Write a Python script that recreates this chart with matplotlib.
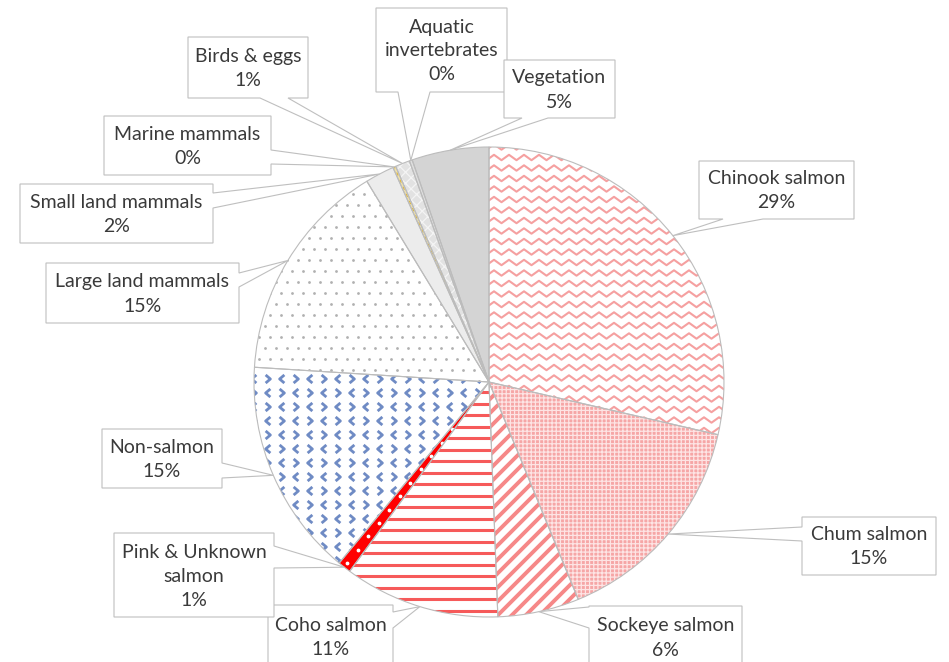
import numpy as np
import matplotlib.pyplot as plt
from matplotlib.patches import Polygon, Wedge
from matplotlib.path import Path

# figure size in pixels, pie drawn in pixel units
W, H = 949, 662
CX, CY, R = 489, 382, 235   # pie centre (from top) and radius

labels = ['Chinook salmon', 'Chum salmon', 'Sockeye salmon', 'Coho salmon',
          'Pink & Unknown\nsalmon', 'Non-salmon', 'Large land mammals',
          'Small land mammals', 'Marine mammals', 'Birds & eggs',
          'Aquatic\ninvertebrates', 'Vegetation']
values = [28.6, 15.2, 5.6, 10.7, 0.9, 15.0, 15.3, 2.0, 0.2, 1.0, 0.2, 5.3]
face = ['white', '#f6a6a6', 'white', 'white', '#ff0000', 'white', 'white',
        '#ececec', '#f1e2a8', '#e2e2e2', '#dedede', '#d4d4d4']

# callout boxes: (x0, y0, x1, y1) in pixels from the top, side of the tail, tail base
boxes = [
    ((699, 161, 854, 219), 'bottom', (723, 763)),
    ((802, 517, 936, 575), 'left', (527, 541)),
    ((589, 606, 742, 668), 'left', (607, 628)),
    ((268, 605, 393, 668), 'right', (612, 628)),
    ((114, 533, 274, 617), 'right', (546, 568)),
    ((102, 429, 222, 488), 'right', (463, 478)),
    ((46, 263, 239, 323), 'right', (273, 287)),
    ((20, 184, 213, 243), 'right', (193, 208)),
    ((104, 116, 271, 175), 'right', (150, 164)),
    ((188, 37, 308, 98), 'bottom', (260, 288)),
    ((376, 8, 507, 92), 'bottom', (398, 430)),
    ((504, 60, 615, 118), 'bottom', (522, 548)),
]

plt.rcParams['font.family'] = ['Lato', 'DejaVu Sans']
plt.rcParams['hatch.linewidth'] = 0.9

fig = plt.figure(figsize=(W / 100, H / 100), dpi=100)
ax = fig.add_axes([0, 0, 1, 1])

wedges, _ = ax.pie(values, startangle=90, counterclock=False,
                   center=(CX, H - CY), radius=R, colors=face,
                   wedgeprops=dict(edgecolor='none', linewidth=0))
ax.set_xlim(0, W)
ax.set_ylim(0, H)
ax.set_aspect('equal')
ax.axis('off')

cy = H - CY

# Chinook: zigzag lines
wz = wedges[0]
xs = np.arange(CX - 10, CX + R + 20, 7.5)
for row in np.arange(cy - 80, cy + R + 20, 10.5):
    ys = row + np.where(np.arange(len(xs)) % 2 == 0, 2.7, -2.7)
    ln, = ax.plot(xs, ys, color='#f5a0a0', lw=1.5, zorder=2)
    ln.set_clip_path(wz)

# Chum: fine grid
w = wedges[1]
hp = Wedge(w.center, w.r, w.theta1, w.theta2, facecolor='none',
           edgecolor='#fde4e4', hatch='++++', lw=0, zorder=2)
ax.add_patch(hp)

# Sockeye: diagonal stripes
w = wedges[2]
xx = np.array([CX - 300, CX + 300])
for c in np.arange(-900, 900, 14):
    ln, = ax.plot(xx, xx - CX + cy + c, color='#f68888', lw=2.8, zorder=2)
    ln.set_clip_path(w)

# Coho: horizontal stripes
w = wedges[3]
for row in np.arange(cy - R - 5, cy + 5, 11.5):
    ln, = ax.plot([CX - R, CX + R], [row, row], color='#f65a5a', lw=2.2, zorder=2)
    ln.set_clip_path(w)

# Pink: white dots along the slice
w = wedges[4]
th = np.deg2rad((w.theta1 + w.theta2) / 2)
rr = np.arange(60, R, 17)
sc = ax.scatter(CX + rr * np.cos(th), cy + rr * np.sin(th), s=3, color='white', zorder=2)
sc.set_clip_path(w)

# Non-salmon: blue chevrons
w = wedges[5]
left = Path([(0.35, 0.6), (-0.35, 0), (0.35, -0.6)], [Path.MOVETO, Path.LINETO, Path.LINETO])
right = Path([(-0.35, 0.6), (0.35, 0), (-0.35, -0.6)], [Path.MOVETO, Path.LINETO, Path.LINETO])
gx, gy = np.meshgrid(np.arange(CX - R, CX + 10, 14), np.arange(cy - R, cy + 10, 14))
odd = (np.round((gx - CX) / 14) + np.round((gy - cy) / 14)) % 2 == 1
for m, mask in ((left, odd), (right, ~odd)):
    sc = ax.scatter(gx[mask], gy[mask], marker=m, s=34, facecolors='none',
                    edgecolors='#6f8bc4', linewidths=2.0, zorder=2)
    sc.set_clip_path(w)

# Large land mammals: grey dots
w = wedges[6]
gx, gy = np.meshgrid(np.arange(CX - R, CX + 10, 11), np.arange(cy - 10, cy + R + 10, 11))
gx = gx + np.where((np.arange(gx.shape[0]) % 2)[:, None] == 1, 5.5, 0)
sc = ax.scatter(gx.ravel(), gy.ravel(), s=4, color='#b0b0b0', lw=0, zorder=2)
sc.set_clip_path(w)

# Birds: light dotted grid
w = wedges[9]
ax.add_patch(Wedge(w.center, w.r, w.theta1, w.theta2, facecolor='none',
                   edgecolor='#f4f4f4', hatch='xxx', lw=0, zorder=2))

# Marine mammals: yellow dashes
w = wedges[8]
th = np.deg2rad((w.theta1 + w.theta2) / 2)
ax.plot([CX, CX + R * np.cos(th)], [cy, cy + R * np.sin(th)], color='#e0b840',
        lw=0.8, ls=(0, (3, 4)), zorder=3)

# slice outlines
for w in wedges:
    ax.add_patch(Wedge(w.center, w.r, w.theta1, w.theta2, fill=False,
                       edgecolor='#bcbcbc', lw=0.8, zorder=4))

# callouts
total = sum(values)
cum = np.cumsum(values) - np.array(values) / 2
for lab, v, c, (bx, side, (a, b)) in zip(labels, values, cum, boxes):
    ang = np.deg2rad(c / total * 360)
    tip = (CX + R * np.sin(ang), CY - R * np.cos(ang))
    x0, y0, x1, y1 = bx
    pts = [(x0, y0)]
    if side == 'top':
        pts += [(a, y0), tip, (b, y0)]
    pts += [(x1, y0)]
    if side == 'right':
        pts += [(x1, a), tip, (x1, b)]
    pts += [(x1, y1)]
    if side == 'bottom':
        pts += [(b, y1), tip, (a, y1)]
    pts += [(x0, y1)]
    if side == 'left':
        pts += [(x0, b), tip, (x0, a)]
    pts = [(px, H - py) for px, py in pts]
    ax.add_patch(Polygon(pts, closed=True, facecolor='white', edgecolor='#bfbfbf',
                         lw=0.8, zorder=5))
    ax.text((x0 + x1) / 2, H - (y0 + y1) / 2 - 1, '{}\n{:.0f}%'.format(lab, v),
            ha='center', va='center', fontsize=14, color='#3a3a3a',
            linespacing=1.5, zorder=6)

fig.savefig('out.png', dpi=100)
